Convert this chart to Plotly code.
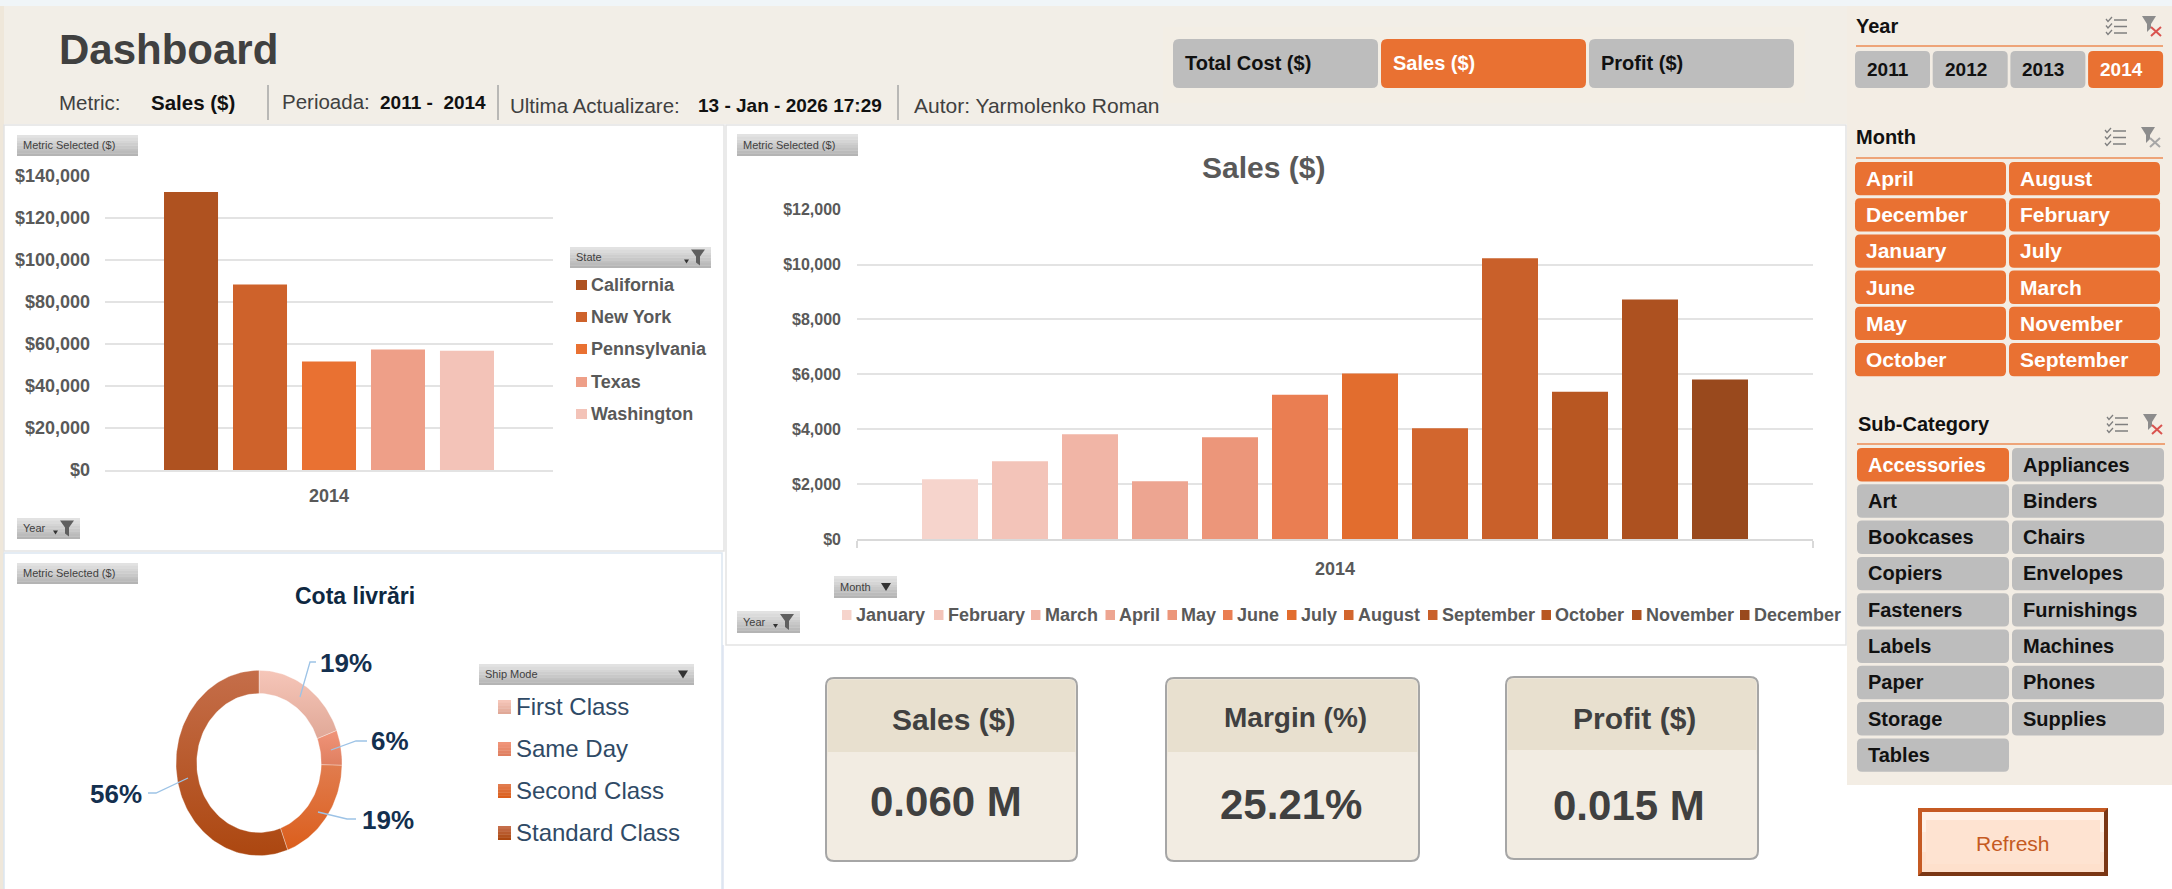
import plotly.graph_objects as go
import math

# ---------- data ----------
YEAR = "2014"
states = ["California", "New York", "Pennsylvania", "Texas", "Washington"]
state_sales = [132400, 88350, 51650, 57370, 56730]
months = ["January", "February", "March", "April", "May", "June", "July",
          "August", "September", "October", "November", "December"]
month_sales = [2178, 2830, 3815, 2105, 3705, 5255, 6030, 4037, 10228, 5366, 8726, 5809]
ship_modes = ["First Class", "Same Day", "Second Class", "Standard Class"]
ship_shares = [19.3, 6.1, 19.0, 55.6]
kpi_titles = ["Sales ($)", "Margin (%)", "Profit ($)"]
kpi_values = ["0.060 M", "25.21%", "0.015 M"]
metric_buttons = ["Total Cost ($)", "Sales ($)", "Profit ($)"]
year_slicer = ["2011", "2012", "2013", "2014"]
month_slicer = ["April", "August", "December", "February", "January", "July",
                "June", "March", "May", "November", "October", "September"]
subcat_slicer = ["Accessories", "Appliances", "Art", "Binders", "Bookcases", "Chairs",
                 "Copiers", "Envelopes", "Fasteners", "Furnishings", "Labels", "Machines",
                 "Paper", "Phones", "Storage", "Supplies", "Tables"]

# ---------- styles ----------
state_colors = ["#AF5220", "#CE622B", "#E97132", "#EE9F88", "#F3C3B8"]
month_colors = ["#F6D4CC", "#F3C4B9", "#F1B5A6", "#EDA591", "#EC967A", "#EA7E52",
                "#E26D2E", "#D2662E", "#C9602A", "#B85722", "#AD5120", "#99491D"]
ship_grad = [("#F6C6B9", "#E0A897"), ("#F09479", "#DF7F60"),
             ("#E17C4E", "#DB5E1C"), ("#C56E4A", "#AC4710")]
FONT = "Liberation Sans"
ORANGE = "#E97132"
GREY = "#BDBDBD"
W, H = 2172, 889


def X(x):
    return x / W


def Y(y):
    return 1 - y / H


shapes, annos = [], []


def rect(x0, y0, x1, y1, fill, line=None, lw=0, layer="below"):
    shapes.append(dict(type="rect", xref="paper", yref="paper", x0=X(x0), x1=X(x1), y0=Y(y0), y1=Y(y1),
                       fillcolor=fill, line=dict(color=line or fill, width=lw), layer=layer))


def rrect(x0, y0, x1, y1, r, fill, line=None, lw=0, layer="below"):
    p = (f"M{X(x0+r)},{Y(y0)} L{X(x1-r)},{Y(y0)} Q{X(x1)},{Y(y0)} {X(x1)},{Y(y0+r)} "
         f"L{X(x1)},{Y(y1-r)} Q{X(x1)},{Y(y1)} {X(x1-r)},{Y(y1)} L{X(x0+r)},{Y(y1)} "
         f"Q{X(x0)},{Y(y1)} {X(x0)},{Y(y1-r)} L{X(x0)},{Y(y0+r)} Q{X(x0)},{Y(y0)} {X(x0+r)},{Y(y0)} Z")
    shapes.append(dict(type="path", xref="paper", yref="paper", path=p, fillcolor=fill,
                       line=dict(color=line or fill, width=lw), layer=layer))


def poly(points, fill=None, line=None, lw=1, close=True, layer="above"):
    p = "M" + " L".join(f"{X(a)},{Y(b)}" for a, b in points) + (" Z" if close else "")
    shapes.append(dict(type="path", xref="paper", yref="paper", path=p,
                       fillcolor=fill if fill else "rgba(0,0,0,0)",
                       line=dict(color=line or "rgba(0,0,0,0)", width=lw if line else 0), layer=layer))


def T(x, y, s, size, color="#404040", bold=False, anchor="left"):
    annos.append(dict(xref="paper", yref="paper", x=X(x), y=Y(y), text=f"<b>{s}</b>" if bold else s,
                      showarrow=False, xanchor=anchor, yanchor="middle", borderpad=0,
                      font=dict(family=FONT, size=size, color=color)))


def mix(a, b, t):
    ca = [int(a[i:i+2], 16) for i in (1, 3, 5)]
    cb = [int(b[i:i+2], 16) for i in (1, 3, 5)]
    return "#%02X%02X%02X" % tuple(round(p + (q - p) * t) for p, q in zip(ca, cb))


def grad(x0, y0, x1, y1, top, bottom, n=8):
    h = (y1 - y0) / n
    for i in range(n):
        rect(x0, y0 + i * h, x1, y0 + (i + 1) * h + (0.3 if i < n - 1 else 0), mix(top, bottom, i / (n - 1)))


def funnel(cx, cy):
    poly([(cx - 7, cy - 8), (cx + 7, cy - 8), (cx + 2, cy - 1), (cx + 2, cy + 8), (cx - 2, cy + 5), (cx - 2, cy - 1)], fill="#5F5F5F")
    poly([(cx - 14, cy + 2), (cx - 9, cy + 2), (cx - 11.5, cy + 6)], fill="#333333")


def field_btn(x0, y0, x1, y1, label, size=11, kind=None):
    grad(x0, y0, x1, y1, "#E2E2E2", "#B4B4B4")
    T(x0 + 5, (y0 + y1) / 2 - 0.5, label, size, "#3F3F3F")
    if kind == "filter":
        funnel(x1 - 13, (y0 + y1) / 2)
    elif kind == "down":
        c, m = x1 - 11, (y0 + y1) / 2
        poly([(c - 5, m - 4), (c + 5, m - 4), (c, m + 4)], fill="#333333")


def slicer_icons(x, y, xcolor):
    for i in range(3):
        yy = y + 3 + i * 6.5
        poly([(x + 8, yy), (x + 21, yy)], line="#7F7F7F", lw=1.5, close=False)
        poly([(x, yy - 1), (x + 2, yy + 1.5), (x + 6, yy - 3)], line="#7F7F7F", lw=1.3, close=False)
    fx = x + 36
    poly([(fx, y - 1), (fx + 14, y - 1), (fx + 9, y + 7), (fx + 9, y + 11), (fx + 5, y + 15), (fx + 5, y + 7)], fill="#8C8C8C")
    poly([(fx + 9, y + 10), (fx + 19, y + 19)], line=xcolor, lw=2, close=False)
    poly([(fx + 19, y + 10), (fx + 9, y + 19)], line=xcolor, lw=2, close=False)


# ---------- page background ----------
rect(0, 0, W, 6, "#F0F5F8")
rect(0, 6, W, 124, "#F2EEE7")
rect(1163, 27, 1805, 103, "#F3EEE5")
rect(1847, 6, W, 785, "#F3EDE4")
rect(0, 6, 4, H, "#EFE7DA")

# panels
rect(4, 125, 724, 551, "#FFFFFF", "#E3E3E3", 1.5)
rect(4, 553, 722, H + 3, "#FFFFFF", "#DCE6F1", 1.5)
rect(726, 125, 1846, 645, "#FFFFFF", "#E3E3E3", 1.5)
poly([(723, 645), (723, H)], line="#DCE3F0", lw=1.5, close=False, layer="below")

# ---------- header ----------
T(58, 49, "Dashboard", 42, "#404040", True)
T(58, 102, "Metric:", 20.5, "#404040")
T(150, 103, "Sales ($)", 20.5, "#111111", True)
T(281, 101, "Perioada:", 20.5, "#404040")
T(379, 103, "2011 -  2014", 19, "#111111", True)
T(509, 105, "Ultima Actualizare:", 20.5, "#404040")
T(697, 105, "13 - Jan - 2026 17:29", 19, "#111111", True)
T(913, 106, "Autor: Yarmolenko Roman", 21, "#404040")
for sx in (268, 498, 898):
    poly([(sx, 85), (sx, 120)], line="#A6A6A6", lw=1.5, close=False, layer="below")

for i, lab in enumerate(metric_buttons):
    x0 = 1173 + i * 208
    sel = lab == "Sales ($)"
    rrect(x0, 39, x0 + 205, 88, 6, ORANGE if sel else GREY)
    T(x0 + 11, 63.5, lab, 20, "#FFFFFF" if sel else "#111111", True)

# ---------- slicers ----------
T(1855, 26, "Year", 20, "#111111", True)
poly([(1856, 46), (2163, 46)], line="#ED8B55", lw=1.5, close=False, layer="below")
slicer_icons(2106, 17, "#D9534F")
for i, lab in enumerate(year_slicer):
    x0 = 1855 + i * 77.7
    sel = lab == YEAR
    rrect(x0, 51, x0 + 75, 88, 5, ORANGE if sel else GREY)
    T(x0 + 11, 70, lab, 19, "#FFFFFF" if sel else "#111111", True)

T(1855, 137, "Month", 20, "#111111", True)
poly([(1856, 158), (2163, 158)], line="#ED8B55", lw=1.5, close=False, layer="below")
slicer_icons(2105, 128, "#A6A6A6")
for i, lab in enumerate(month_slicer):
    c, r = i % 2, i // 2
    x0 = 1855 + c * 154
    y0 = 162 + r * 36.2
    rrect(x0, y0, x0 + 151, y0 + 33.3, 5, ORANGE)
    T(x0 + 10, y0 + 16.5, lab, 21, "#FFFFFF", True)

T(1857, 424, "Sub-Category", 20, "#111111", True)
poly([(1857, 444), (2165, 444)], line="#ED8B55", lw=1.5, close=False, layer="below")
slicer_icons(2107, 415, "#D9534F")
for i, lab in enumerate(subcat_slicer):
    c, r = i % 2, i // 2
    x0 = 1857 + c * 155
    y0 = 448 + r * 36.3
    sel = lab == "Accessories"
    rrect(x0, y0, x0 + 152, y0 + 33.4, 5, ORANGE if sel else GREY)
    T(x0 + 10, y0 + 16.5, lab, 20, "#FFFFFF" if sel else "#111111", True)

# refresh
rect(1918, 808, 2108, 876, "#C55A23")
poly([(2108, 808), (2108, 876), (1918, 876), (1922, 872), (2104, 872), (2104, 812)], fill="#7A3715", layer="below")
grad(1922, 812, 2104, 872, "#FFF1E6", "#FEE0CC", 3)
rect(1926, 820, 2100, 864, "#FEE3D1")
T(2013, 843, "Refresh", 21, "#C55A22", False, "center")

# ---------- KPI cards ----------
cards = [(826, 1077, 678, 861, 752), (1166, 1419, 678, 861, 752), (1506, 1758, 677, 859, 750)]
title_pos = [(953, 719), (1295, 717), (1634, 718)]
value_pos = [(946, 801), (1291, 804), (1629, 805)]
title_sizes = [30, 28, 30]
for (x0, x1, y0, y1, ys), tp, vp, tt, vv, ts in zip(cards, title_pos, value_pos, kpi_titles, kpi_values, title_sizes):
    rrect(x0, y0, x1, y1, 8, "#F2ECE2", "#A6A6A6", 2)
    rrect(x0 + 1.5, y0 + 1.5, x1 - 1.5, ys + 8, 6, "#E8E0CF")
    rect(x0 + 1.5, ys, x1 - 1.5, ys + 10, "#F2ECE2")
    T(tp[0], tp[1], tt, ts, "#404040", True, "center")
    T(vp[0], vp[1], vv, 42, "#404040", True, "center")

# ---------- left chart furniture ----------
field_btn(17, 135, 138, 156, "Metric Selected ($)")
field_btn(17, 518, 80, 539, "Year", 11, "filter")
field_btn(570, 247, 711, 268, "State", 11, "filter")
for lab, col, ly in zip(states, state_colors, (285, 317, 349, 382, 414)):
    rect(576, ly - 5, 587, ly + 5, col, layer="above")
    T(590, ly, lab, 18, "#595959", True)

# ---------- main chart furniture ----------
field_btn(737, 134, 858, 156, "Metric Selected ($)")
field_btn(834, 576, 897, 598, "Month", 11, "down")
field_btn(737, 611, 800, 633, "Year", 11, "filter")
T(1263, 167, "Sales ($)", 30, "#595959", True, "center")
sq_x = (842, 934, 1031, 1105.5, 1167.5, 1223, 1287, 1344, 1428, 1541.5, 1632, 1740)
for lab, col, sx in zip(months, month_colors, sq_x):
    rect(sx, 610, sx + 9.5, 620, col, layer="above")
    T(sx + 12.5, 615, lab, 18, "#595959", True)

# ---------- donut furniture ----------
field_btn(17, 563, 138, 584, "Metric Selected ($)")
T(355, 596, "Cota livrări", 23, "#0E2841", True, "center")
field_btn(479, 664, 694, 685, "Ship Mode", 11, "down")
for lab, (a, b), ly in zip(ship_modes, ship_grad, (707, 749, 791, 833)):
    grad(498, ly - 7, 511, ly + 7, a, b, 5)
    T(515, ly - 1, lab, 24, "#2F4A66")

leaders = [[(300, 697), (310, 662), (316, 662)], [(331, 750), (356, 741), (367, 741)],
           [(318, 812), (347, 819), (356, 819)], [(188, 778), (156, 793), (148, 793)]]
label_pos = [(346, 663), (390, 741), (388, 820), (116, 794)]
for pts, lp, sh in zip(leaders, label_pos, ship_shares):
    poly(pts, line="#9DC3E6", lw=1.3, close=False)
    T(lp[0], lp[1], f"{round(sh)}%", 26, "#14304F", True, "center")

# ---------- traces ----------
fig = go.Figure()
for name, val, col in zip(states, state_sales, state_colors):
    fig.add_bar(x=[YEAR], y=[val], name=name, marker=dict(color=col, line_width=0), xaxis="x", yaxis="y", showlegend=False)

# the main chart needs a tighter gap than the left one, and bargap is shared by the whole figure
PITCH, BAR = 70 / 956, 56 / 956
n_m = len(months)
for i, (name, val, col) in enumerate(zip(months, month_sales, month_colors)):
    fig.add_bar(x=[YEAR], y=[val], name=name, marker=dict(color=col, line_width=0), xaxis="x2", yaxis="y2",
                width=BAR, offset=(i - n_m / 2) * PITCH + (PITCH - BAR) / 2, showlegend=False)

# donut drawn on its own axes so that it keeps the reference's slightly tall ellipse
HOLE = 0.75
start = 0.0
total = sum(ship_shares)
for name, share, (a, b) in zip(ship_modes, ship_shares, ship_grad):
    t0 = start / total * 2 * math.pi
    start += share
    t1 = start / total * 2 * math.pi
    n = max(6, int(share * 2))
    ang = [t0 + (t1 - t0) * i / n for i in range(n + 1)]
    xs = [math.sin(t) for t in ang] + [HOLE * math.sin(t) for t in reversed(ang)]
    ys = [math.cos(t) for t in ang] + [HOLE * math.cos(t) for t in reversed(ang)]
    fig.add_scatter(x=xs + xs[:1], y=ys + ys[:1], name=name, mode="lines", fill="toself",
                    line=dict(color="rgba(255,255,255,0.45)", width=0.7),
                    fillgradient=dict(type="vertical", colorscale=[[0, b], [1, a]]),
                    xaxis="x3", yaxis="y3", showlegend=False, hoverinfo="name")

tick = dict(family=FONT, weight=700, color="#595959")
fig.update_layout(
    width=W, height=H, autosize=False, margin=dict(l=0, r=0, t=0, b=0, pad=0, autoexpand=False),
    paper_bgcolor="#FFFFFF", plot_bgcolor="rgba(0,0,0,0)", shapes=shapes, annotations=annos,
    barmode="group", bargap=0.23, bargroupgap=0.217, showlegend=False, font=dict(family=FONT),
    xaxis=dict(domain=[X(105), X(553)], anchor="y", type="category", tickfont=dict(size=18, **tick), automargin=False,
               showgrid=False, ticks="", ticklabelstandoff=8, showline=True, linecolor="#E3E3E3", linewidth=2),
    yaxis=dict(domain=[Y(470), Y(176)], anchor="x", range=[0, 140000], dtick=20000, tickprefix="$", tickformat=",d",
               tickfont=dict(size=18, **tick), gridcolor="#E3E3E3", gridwidth=2, zeroline=False, ticks="", automargin=False,
               ticklabelstandoff=14, showline=False),
    xaxis2=dict(domain=[X(857), X(1813)], anchor="y2", type="category", tickfont=dict(size=18, **tick), automargin=False,
                showgrid=False, ticks="outside", ticklen=7, tickcolor="#D9D9D9", tickwidth=1.5, tickson="boundaries",
                ticklabelstandoff=12, showline=True, linecolor="#D9D9D9", linewidth=2),
    yaxis2=dict(domain=[Y(539), Y(209.6)], anchor="x2", range=[0, 12000], dtick=2000, tickprefix="$", tickformat=",d",
                tickfont=dict(size=16, **tick), gridcolor="#E3E3E3", gridwidth=2, zeroline=False, ticks="", automargin=False,
                ticklabelstandoff=15, showline=False),
    xaxis3=dict(domain=[X(176), X(342)], anchor="y3", range=[-1, 1], visible=False, automargin=False),
    yaxis3=dict(domain=[Y(855.7), Y(670.3)], anchor="x3", range=[-1, 1], visible=False, automargin=False),
)

fig.write_html("out.html", config={"displayModeBar": False},
               post_script="document.body.style.margin='0';document.body.style.overflow='hidden';")
